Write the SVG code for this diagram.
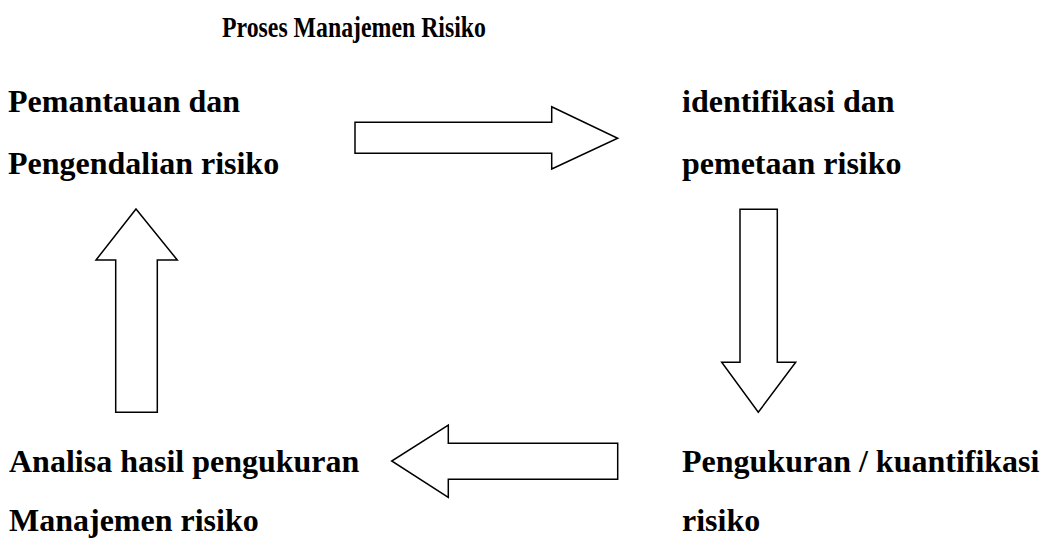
<svg xmlns="http://www.w3.org/2000/svg" width="1044" height="557" viewBox="0 0 1044 557">
<style>
.t{font-family:"Liberation Serif","Times New Roman",serif;font-weight:bold;font-size:32px;fill:#000}
.ttl{font-family:"Liberation Serif","Times New Roman",serif;font-weight:bold;font-size:29px;fill:#000}
.arr{fill:#fff;stroke:#000;stroke-width:1.5;stroke-linejoin:miter}
</style>
<rect width="1044" height="557" fill="#fff"/>
<text class="ttl" x="222" y="37" textLength="264" lengthAdjust="spacingAndGlyphs">Proses Manajemen Risiko</text>
<g id="node-pemantauan">
<text class="t" x="8" y="112">Pemantauan dan</text>
<text class="t" x="8" y="174">Pengendalian risiko</text>
</g>
<g id="node-identifikasi">
<text class="t" x="682" y="112">identifikasi dan</text>
<text class="t" x="682" y="174">pemetaan risiko</text>
</g>
<g id="node-pengukuran">
<text class="t" x="682" y="472">Pengukuran / kuantifikasi</text>
<text class="t" x="682" y="531">risiko</text>
</g>
<g id="node-analisa">
<text class="t" x="9" y="472">Analisa hasil pengukuran</text>
<text class="t" x="9" y="531">Manajemen risiko</text>
</g>
<g id="connectors">
<polygon class="arr" points="355,122.3 551.7,122.3 551.7,106.7 617.7,138.3 551.7,169 551.7,153.3 355,153.3"/>
<polygon class="arr" points="740,209.3 777.3,209.3 777.3,362.3 795.7,362.3 758.3,412.3 721.7,362.3 740,362.3"/>
<polygon class="arr" points="617.7,443.3 448.3,443.3 448.3,425 391.7,461 448.3,497.3 448.3,479.3 617.7,479.3"/>
<polygon class="arr" points="115.7,412.3 157.3,412.3 157.3,260 177.3,260 136,209 96,260 115.7,260"/>
</g>
</svg>
